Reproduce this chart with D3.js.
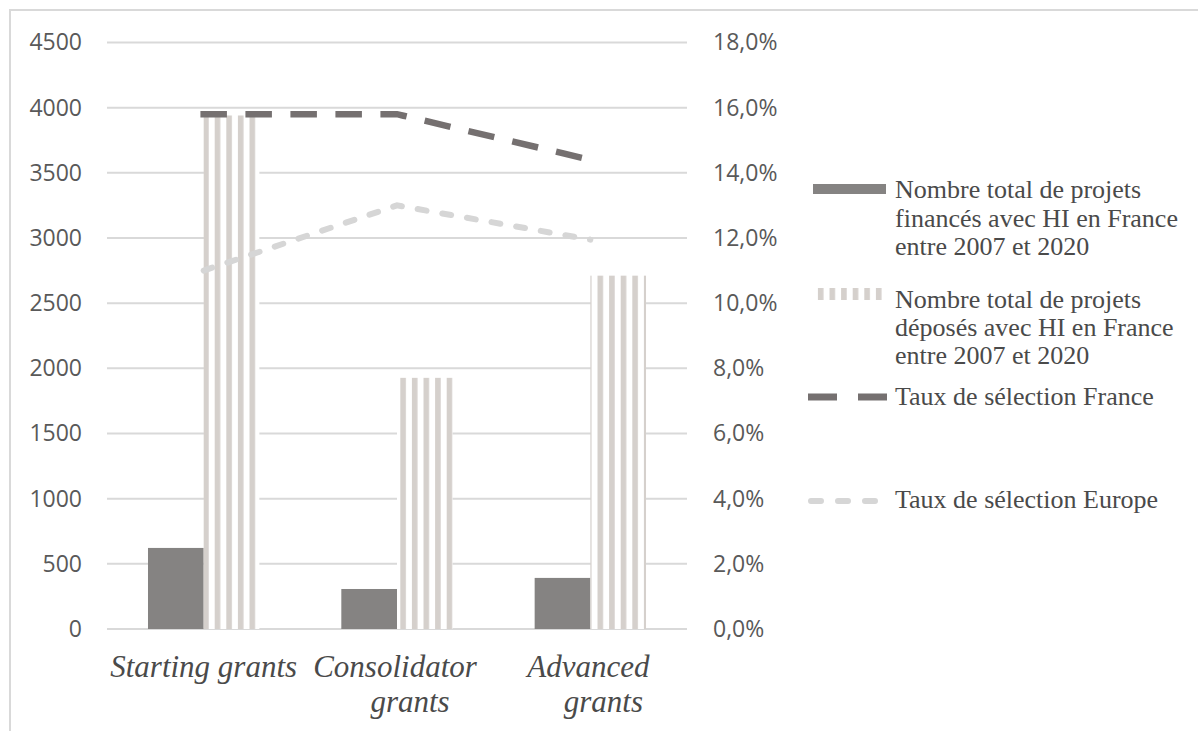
<!DOCTYPE html>
<html>
<head>
<meta charset="utf-8">
<script src="https://cdn.jsdelivr.net/npm/d3@7"></script>
<style>
  html, body { margin: 0; padding: 0; background: #fff; }
  svg { display: block; }
</style>
</head>
<body>
<svg id="chart" width="1198" height="731"></svg>
<script>
// ---- data ----
const categories = ["Starting grants", "Consolidator grants", "Advanced grants"];
const categoryLines = [["Starting grants"], ["Consolidator", "grants"], ["Advanced", "grants"]];
const funded = [622, 307, 392];          // Nombre total de projets financés
const submitted = [3940, 1927, 2711];    // Nombre total de projets déposés
const rateFrance = [0.158, 0.158, 0.144];
const rateEurope = [0.110, 0.130, 0.1195];
const leftTicks = [0, 500, 1000, 1500, 2000, 2500, 3000, 3500, 4000, 4500];
const rightTicks = [0, 0.02, 0.04, 0.06, 0.08, 0.10, 0.12, 0.14, 0.16, 0.18];
const legendItems = [
  { key: "funded", lines: ["Nombre total de projets", "financés avec HI en France", "entre 2007 et 2020"] },
  { key: "submitted", lines: ["Nombre total de projets", "déposés avec HI en France", "entre 2007 et 2020"] },
  { key: "france", lines: ["Taux de sélection France"] },
  { key: "europe", lines: ["Taux de sélection Europe"] }
];

// ---- styles ----
const C = {
  grid: "#d9d9d9",
  dark: "#858382",
  stripe: "#d5d0cc",
  france: "#757070",
  europe: "#d6d6d6",
  tick: "#595959",
  text: "#4a4a4a"
};

const svg = d3.select("#chart");

// outer border (top and left)
svg.append("line").attr("x1", 9).attr("x2", 1198).attr("y1", 10).attr("y2", 10)
  .attr("stroke", C.grid).attr("stroke-width", 2);
svg.append("line").attr("x1", 10).attr("x2", 10).attr("y1", 9).attr("y2", 731)
  .attr("stroke", C.grid).attr("stroke-width", 2);

const plot = { left: 107, right: 687, top: 42.5, bottom: 629 };

const x0 = d3.scaleBand().domain(categories).range([plot.left, plot.right])
  .paddingInner(0.424).paddingOuter(0.212);
const x1 = d3.scaleBand().domain(["funded", "submitted"]).range([0, x0.bandwidth()]);
const yL = d3.scaleLinear().domain([0, 4500]).range([plot.bottom, plot.top]);
const yR = d3.scaleLinear().domain([0, 0.18]).range([plot.bottom, plot.top]);

// stripe pattern
const defs = svg.append("defs");
const pat = defs.append("pattern").attr("id", "stripes")
  .attr("patternUnits", "userSpaceOnUse")
  .attr("x", 5.9).attr("y", 0).attr("width", 11.6).attr("height", 20);
pat.append("rect").attr("width", 11.6).attr("height", 20).attr("fill", "#fff");
pat.append("rect").attr("width", 5.6).attr("height", 20).attr("fill", C.stripe);

// gridlines
svg.append("g").selectAll("line").data(leftTicks).join("line")
  .attr("x1", plot.left).attr("x2", plot.right)
  .attr("y1", d => yL(d)).attr("y2", d => yL(d))
  .attr("stroke", C.grid).attr("stroke-width", 2);

// left axis
const axL = svg.append("g").attr("transform", `translate(${plot.left},0)`)
  .call(d3.axisLeft(yL).tickValues(leftTicks).tickSize(0).tickPadding(25).tickFormat(d3.format("d")));
axL.select(".domain").remove();
axL.selectAll("text").attr("font-family", "'Open Sans', sans-serif").attr("font-size", 23)
  .attr("fill", C.tick);

// right axis
const fmtPct = d => (d * 100).toFixed(1).replace(".", ",") + "%";
const axR = svg.append("g").attr("transform", `translate(${plot.right},0)`)
  .call(d3.axisRight(yR).tickValues(rightTicks).tickSize(0).tickPadding(26).tickFormat(fmtPct));
axR.select(".domain").remove();
axR.selectAll("text").attr("font-family", "'Open Sans', sans-serif").attr("font-size", 23)
  .attr("fill", C.tick);

// bars
const groups = svg.append("g").selectAll("g").data(categories).join("g")
  .attr("transform", d => `translate(${x0(d)},0)`);
groups.append("rect")
  .attr("x", x1("funded")).attr("width", x1.bandwidth())
  .attr("y", (d, i) => yL(funded[i])).attr("height", (d, i) => yL(0) - yL(funded[i]))
  .attr("fill", C.dark);
svg.append("g").selectAll("rect").data(categories).join("rect")
  .attr("x", d => x0(d) + x1("submitted")).attr("width", x1.bandwidth())
  .attr("y", (d, i) => yL(submitted[i])).attr("height", (d, i) => yL(0) - yL(submitted[i]))
  .attr("fill", "url(#stripes)");

// lines
const cx = d => x0(d) + x0.bandwidth() / 2;
const line = d3.line().x((d, i) => cx(categories[i])).y(d => yR(d));
svg.append("path").datum(rateEurope).attr("d", line)
  .attr("fill", "none").attr("stroke", C.europe).attr("stroke-width", 6)
  .attr("stroke-dasharray", "9 16").attr("stroke-linecap", "round");
svg.append("path").datum(rateFrance).attr("d", line)
  .attr("fill", "none").attr("stroke", C.france).attr("stroke-width", 6.5)
  .attr("stroke-dasharray", "20 25").attr("stroke-linecap", "square");

// category labels
const catG = svg.append("g");
categoryLines.forEach((lines, i) => {
  const t = catG.append("text")
    .attr("x", cx(categories[i])).attr("y", 677)
    .attr("text-anchor", "middle")
    .attr("font-family", "'Liberation Serif', 'Times New Roman', serif")
    .attr("font-style", "italic").attr("font-size", 31).attr("fill", C.text);
  lines.forEach((ln, j) => {
    t.append("tspan").attr("x", cx(categories[i]) + (lines.length > 1 ? (j === 0 ? -2 : 13) : 0))
      .attr("dy", j === 0 ? 0 : 35).text(ln);
  });
});

// legend
const lg = svg.append("g");
const lx = 895;
const baselines = [[198, 227, 255], [308, 336, 364], [405], [508]];
legendItems.forEach((item, i) => {
  const b = baselines[i];
  const t = lg.append("text").attr("font-family", "'Liberation Serif', 'Times New Roman', serif")
    .attr("font-size", 26).attr("fill", C.text);
  item.lines.forEach((ln, j) => t.append("tspan").attr("x", lx).attr("y", b[j]).text(ln));
  const my = b[0] - 9;
  if (item.key === "funded") {
    lg.append("rect").attr("x", 813).attr("y", 184).attr("width", 73).attr("height", 10).attr("fill", C.dark);
  } else if (item.key === "submitted") {
    lg.append("rect").attr("x", 813).attr("y", 288).attr("width", 73).attr("height", 12).attr("fill", "url(#stripes)");
  } else if (item.key === "france") {
    lg.append("line").attr("x1", 808).attr("x2", 889).attr("y1", my + 1).attr("y2", my + 1)
      .attr("stroke", C.france).attr("stroke-width", 7).attr("stroke-dasharray", "29 21");
  } else {
    lg.append("line").attr("x1", 811).attr("x2", 878).attr("y1", my + 2).attr("y2", my + 2)
      .attr("stroke", C.europe).attr("stroke-width", 6).attr("stroke-dasharray", "10 17")
      .attr("stroke-linecap", "round");
  }
});
</script>
</body>
</html>
